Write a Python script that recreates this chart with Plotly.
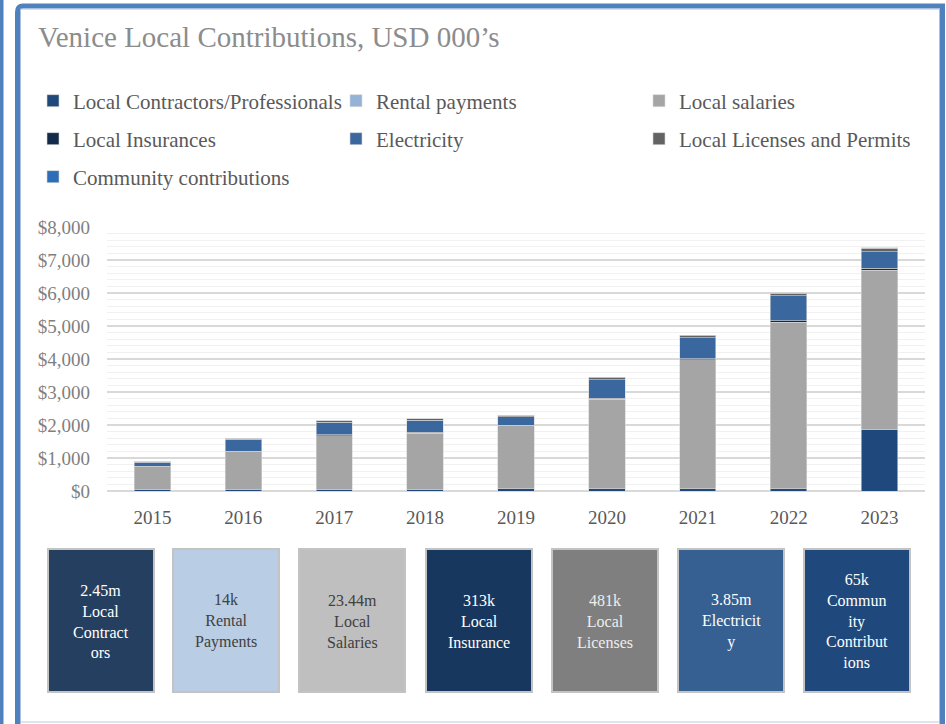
import plotly.graph_objects as go

years = ["2015", "2016", "2017", "2018", "2019", "2020", "2021", "2022", "2023"]
contractors = [35, 35, 35, 35, 65, 65, 65, 65, 1850]
rental = [5, 4, 3, 2, 0, 0, 0, 0, 0]
salaries = [690, 1145, 1630, 1710, 1905, 2715, 3905, 5055, 4845]
insurance = [20, 25, 30, 30, 30, 35, 40, 45, 60]
electricity = [120, 360, 385, 365, 250, 555, 635, 750, 490]
licenses = [20, 30, 40, 50, 40, 60, 60, 75, 110]
community = [0, 0, 0, 0, 5, 10, 15, 15, 20]

series_names = ["Local Contractors/Professionals", "Rental payments", "Local salaries",
                "Local Insurances", "Electricity", "Local Licenses and Permits",
                "Community contributions"]
series_values = [contractors, rental, salaries, insurance, electricity, licenses, community]
series_colors = ["#1f497d", "#95b3d7", "#a5a5a5", "#132b4a", "#3a679e", "#636363", "#2e6db8"]
series_legend = ["legend", "legend", "legend", "legend2", "legend2", "legend2", "legend3"]

box_texts = ["2.45m<br>Local<br>Contract<br>ors", "14k<br>Rental<br>Payments",
             "23.44m<br>Local<br>Salaries", "313k<br>Local<br>Insurance",
             "481k<br>Local<br>Licenses", "3.85m<br>Electricit<br>y",
             "65k<br>Commun<br>ity<br>Contribut<br>ions"]
box_fill = ["#243f60", "#b9cde5", "#bfbfbf", "#17375e", "#7f7f7f", "#366092", "#1f497d"]
box_font = ["#ffffff", "#404040", "#404040", "#ffffff", "#eeeeee", "#ffffff", "#ffffff"]

FONT = "Liberation Serif"
W, H = 946, 724
ML, MR, MT, MB = 107, 21, 227, 233
PW, PH = W - ML - MR, H - MT - MB


def px(x):
    return (x - ML) / PW


def py(y):
    return (H - MB - y) / PH


fig = go.Figure()
for name, vals, col, lg in zip(series_names, series_values, series_colors, series_legend):
    fig.add_trace(go.Bar(
        x=years, y=vals, name=name, legend=lg,
        marker=dict(color=col, line=dict(color="#d6d6d6", width=0.6)),
    ))

shapes = []
annotations = []
# summary boxes
box_x0 = [48, 173, 299, 426, 552, 678, 804]
for i, (t, fc, tc) in enumerate(zip(box_texts, box_fill, box_font)):
    x0 = box_x0[i]
    x1 = x0 + 106
    shapes.append(dict(type="rect", xref="paper", yref="paper",
                       x0=px(x0), x1=px(x1), y0=py(549), y1=py(692),
                       fillcolor=fc, line=dict(color="#c3c3c3", width=2)))
    annotations.append(dict(xref="paper", yref="paper", x=px((x0 + x1) / 2), y=py(621),
                            xanchor="center", yanchor="middle", showarrow=False,
                            text=t, align="center",
                            font=dict(family=FONT, size=16, color=tc)))

# frame
shapes.append(dict(type="rect", xref="paper", yref="paper",
                   x0=px(0), x1=px(3.5), y0=py(-5), y1=py(730),
                   fillcolor="#4f81bd", line=dict(width=0)))
shapes.append(dict(type="line", xref="paper", yref="paper",
                   x0=px(20), x1=px(940), y0=py(722), y1=py(722),
                   line=dict(color="#dfe5ec", width=2)))
shapes.append(dict(type="path", xref="paper", yref="paper",
                   path="M {a},{b} L {a},{c} Q {a},{d} {e},{d} L {f},{d} L {f},{b}".format(
                       a=px(17.5), b=py(730), c=py(12), d=py(6), e=px(23), f=px(942.5)),
                   line=dict(color="#4f81bd", width=5)))
shapes.append(dict(type="path", xref="paper", yref="paper",
                   path="M {a},{b} L {a},{d} L {f},{d} L {f},{b}".format(
                       a=px(20.5), b=py(730), d=py(9), f=px(939.5)),
                   line=dict(color="#a9c0de", width=1)))

legend_common = dict(orientation="h", xanchor="left", yanchor="middle", traceorder="normal",
                     x=px(33), entrywidth=258, entrywidthmode="pixels",
                     bgcolor="rgba(0,0,0,0)", borderwidth=0,
                     font=dict(family=FONT, size=21, color="#595959"))

fig.update_layout(
    width=W, height=H,
    margin=dict(l=ML, r=MR, t=MT, b=MB, autoexpand=False),
    paper_bgcolor="white", plot_bgcolor="white",
    barmode="stack", bargap=0.6,
    font=dict(family=FONT, size=19, color="#7f7f7f"),
    title=dict(text="Venice Local Contributions, USD 000’s", x=38 / W, xref="container",
               xanchor="left", y=1 - 37 / H, yref="container", yanchor="middle",
               font=dict(family=FONT, size=29, color="#8c8c8c")),
    legend=dict(legend_common, y=py(101)),
    legend2=dict(legend_common, y=py(139)),
    legend3=dict(legend_common, y=py(177)),
    xaxis=dict(type="category", showgrid=False, showline=False, ticks="",
               tickfont=dict(family=FONT, size=19, color="#595959"),
               ticklabelstandoff=13),
    yaxis=dict(range=[0, 8000], dtick=1000, tickprefix="$", tickformat=",",
               showgrid=True, gridcolor="#d9d9d9", gridwidth=1.5,
               zeroline=True, zerolinecolor="#d9d9d9", zerolinewidth=2,
               ticks="", tickfont=dict(family=FONT, size=19, color="#7f7f7f"),
               ticklabelstandoff=16,
               minor=dict(dtick=200, showgrid=True, gridcolor="#f1f1f1", gridwidth=1)),
    shapes=shapes, annotations=annotations,
    showlegend=True,
)

fig.write_html("out.html", config={"displayModeBar": False},
               post_script="document.body.style.margin='0px';document.body.style.padding='0px';")
